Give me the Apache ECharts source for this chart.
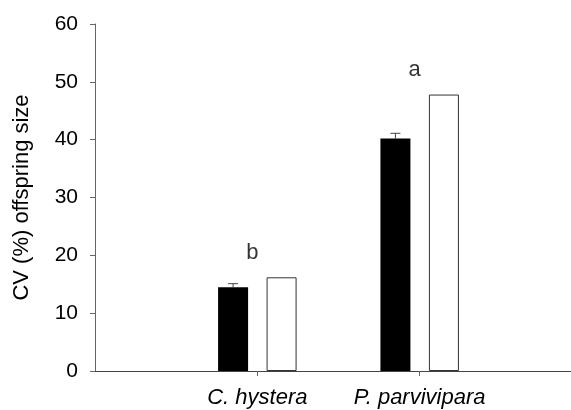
<!DOCTYPE html>
<html><head><meta charset="utf-8">
<script src="https://cdn.jsdelivr.net/npm/echarts@6/dist/echarts.min.js"></script>
<style>html,body{margin:0;padding:0;background:#fff}#c{width:571px;height:410px}</style>
</head><body><div id="c"></div>
<script>
var categories = ['', 'C. hystera', 'P. parvivipara', ''];
var blackValues = [null, 14.5, 40.2, null];
var blackErrors = [null, 0.6, 0.9, null];
var whiteValues = [null, 16.2, 47.8, null];
var letters = [null, 'b', 'a', null];
var letterY = [null, 20.4, 52.1, null];
var yTicks = [0, 10, 20, 30, 40, 50, 60];

var BAR_W = 30, BAR_GAP = 18.5;
var font = 'Liberation Sans, Arial, sans-serif';
var chart = echarts.init(document.getElementById('c'));
chart.setOption({
  animation: false,
  backgroundColor: '#fff',
  grid: {left: 95, top: 24, width: 487, height: 347, containLabel: false, outerBoundsMode: 'none'},
  xAxis: {
    type: 'category', data: categories, boundaryGap: false,
    axisLine: {lineStyle: {color: '#444', width: 1}},
    axisTick: {length: 5, lineStyle: {color: '#666'}, interval: function (i) { return i === 1 || i === 2; }},
    axisLabel: {margin: 16, fontSize: 22, fontStyle: 'italic', color: '#000', fontFamily: font, interval: 0},
    splitLine: {show: false}
  },
  yAxis: {
    type: 'value', min: yTicks[0], max: yTicks[yTicks.length - 1], interval: 10,
    name: 'CV (%) offspring size', nameLocation: 'middle', nameGap: 62,
    nameTextStyle: {fontSize: 22, color: '#000', fontFamily: font},
    axisLine: {show: true, lineStyle: {color: '#666', width: 1}},
    axisTick: {show: true, length: 5, lineStyle: {color: '#666'}},
    axisLabel: {margin: 17, fontSize: 21, color: '#000', fontFamily: font},
    splitLine: {show: false}
  },
  series: [
    {type: 'bar', data: blackValues, barWidth: BAR_W, barGap: (BAR_GAP / BAR_W * 100) + '%',
     itemStyle: {color: '#000', borderColor: '#000', borderWidth: 0}},
    {type: 'bar', data: whiteValues, barWidth: BAR_W,
     itemStyle: {color: '#fff', borderColor: '#333', borderWidth: 1}},
    {type: 'custom', z: 5,
     data: blackValues.map(function (v, i) { return v == null ? null : [i, v, v + blackErrors[i]]; }).filter(function (d) { return d; }),
     renderItem: function (params, api) {
       var off = -(BAR_W + BAR_GAP) / 2;
       var p0 = api.coord([api.value(0), api.value(1)]);
       var p1 = api.coord([api.value(0), api.value(2)]);
       var x = p0[0] + off;
       return {type: 'group', children: [
         {type: 'line', shape: {x1: x, y1: p0[1], x2: x, y2: p1[1]}, style: {stroke: '#444', lineWidth: 1}},
         {type: 'line', shape: {x1: x - 5, y1: p1[1], x2: x + 5, y2: p1[1]}, style: {stroke: '#444', lineWidth: 1}}
       ]};
     }},
    {type: 'scatter', symbolSize: 0,
     data: letterY.map(function (v, i) { return v == null ? null : {value: [i, v], name: letters[i]}; }).filter(function (d) { return d; }),
     label: {show: true, position: 'inside', offset: [-5, 0], formatter: function (p) { return p.name; },
             fontSize: 22, color: '#000', fontFamily: font}}
  ]
});
</script></body></html>
